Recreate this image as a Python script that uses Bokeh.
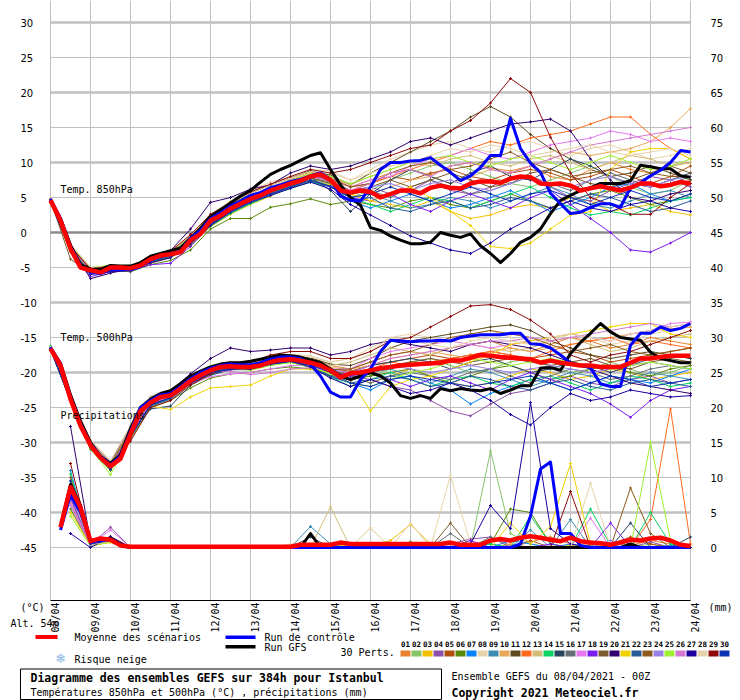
import math
from bokeh.plotting import figure
from bokeh.models import Range1d, Grid, Label
from bokeh.core.properties import value
from bokeh.embed import file_html
from bokeh.resources import INLINE

# ---------------- DATA ----------------
dates = ["08/04", "09/04", "10/04", "11/04", "12/04", "13/04", "14/04", "15/04", "16/04",
         "17/04", "18/04", "19/04", "20/04", "21/04", "22/04", "23/04", "24/04"]
left_ticks = list(range(-45, 31, 5))
right_ticks = list(range(0, 76, 5))

member_colors = ["#e8822e", "#88c46a", "#f0c000", "#8c50a8", "#b04e0a", "#5a8a0a", "#0a82fa", "#e8d4aa",
                 "#3c8cb4", "#e8a85a", "#5e4a1e", "#ff6a1e", "#d2be78", "#0ad264", "#284660", "#646e78",
                 "#e678f0", "#7a1ef0", "#7a5a2e", "#32006e", "#f0d200", "#285a96", "#8c5a1e", "#9882e6",
                 "#a0f032", "#d278d2", "#1e00a0", "#e6d2aa", "#8c0a0a", "#0a32b4"]

# 6-hourly mean / control / GFS (0h .. 384h)
mean850 = [4.6, 1.7, -2.3, -5.0, -5.4, -5.7, -5.0, -5.0, -5.1, -4.7,
           -3.8, -3.3, -3.1, -2.8, -1.1, -0.2, 1.7, 2.4, 3.4, 4.1,
           4.8, 5.3, 6.0, 6.5, 7.0, 7.4, 8.0, 8.3, 7.5, 6.0,
           5.7, 6.0, 5.8, 5.0, 5.5, 6.0, 6.0, 5.6, 6.4, 6.7,
           6.4, 6.3, 7.0, 7.3, 7.3, 7.1, 7.7, 8.0, 7.9, 7.0,
           6.9, 7.0, 6.7, 6.0, 6.3, 6.6, 6.3, 6.0, 6.4, 7.0,
           7.0, 6.6, 6.8, 7.2, 7.0]
ctrl850 = [4.8, 2.0, -2.0, -4.8, -5.6, -5.9, -5.2, -5.3, -5.3, -4.9,
           -4.0, -3.4, -3.0, -2.7, -0.8, 0.3, 2.0, 2.8, 3.8, 4.5,
           5.3, 5.7, 6.4, 6.8, 7.3, 7.6, 8.1, 8.5, 7.6, 5.2,
           4.6, 4.5, 6.5, 9.0, 10.0, 10.0, 10.2, 10.3, 10.7, 9.6,
           8.6, 7.4, 8.1, 9.3, 11.0, 11.0, 16.3, 12.0, 9.9, 8.6,
           5.6, 4.1, 2.7, 2.9, 3.6, 4.1, 4.1, 3.6, 6.4, 7.1,
           8.1, 8.9, 10.0, 11.7, 11.5]
gfs850 = [4.5, 2.0, -1.8, -4.6, -5.2, -5.3, -4.7, -4.8, -4.8, -4.3,
          -3.4, -3.0, -2.6, -2.2, -0.8, 0.6, 2.3, 3.2, 4.2, 5.2,
          6.0, 7.2, 8.3, 9.0, 9.6, 10.3, 11.0, 11.4, 9.0, 6.8,
          5.0, 3.9, 0.7, 0.3, -0.5, -1.1, -1.6, -1.6, -1.4, 0.0,
          -0.4, -0.7, -0.2, -1.9, -3.0, -4.3, -3.0, -1.4, -0.7, 0.5,
          2.7, 4.6, 5.3, 6.0, 6.4, 7.0, 7.0, 7.0, 7.4, 9.6,
          9.4, 9.1, 9.1, 8.1, 7.9]
mean500 = [-16.6, -19.0, -23.8, -27.6, -30.4, -32.2, -33.4, -32.3, -28.8, -25.5,
           -24.3, -23.5, -23.3, -22.3, -21.2, -20.4, -19.7, -19.2, -19.1, -19.2,
           -19.2, -19.0, -18.5, -18.2, -18.1, -18.3, -18.6, -19.0, -19.7, -20.7,
           -20.1, -20.0, -19.7, -19.4, -19.2, -19.0, -18.9, -18.8, -18.7, -18.6,
           -18.3, -18.3, -17.9, -17.5, -17.6, -17.8, -17.9, -18.0, -18.1, -18.6,
           -18.3, -18.6, -18.8, -19.0, -19.0, -19.2, -19.2, -19.2, -18.6, -18.0,
           -18.0, -17.8, -17.6, -17.6, -17.6]
ctrl500 = [-16.4, -18.8, -23.5, -27.3, -30.2, -32.0, -33.2, -32.0, -28.4, -25.0,
           -24.0, -23.2, -23.0, -22.0, -20.9, -20.0, -19.4, -19.0, -18.8, -18.9,
           -18.9, -18.6, -18.1, -17.8, -17.8, -18.0, -18.8, -20.5, -22.8, -23.5,
           -23.5, -21.0, -19.5, -17.0, -15.4, -15.5, -15.6, -15.5, -15.5, -15.4,
           -15.5, -15.0, -14.8, -14.6, -14.6, -14.6, -14.4, -14.4, -15.9, -16.0,
           -16.5, -17.5, -18.6, -19.0, -19.3, -21.6, -22.0, -22.0, -16.1, -14.4,
           -14.4, -13.5, -14.0, -13.7, -13.0]
gfs500 = [-16.5, -18.7, -23.2, -27.0, -30.0, -32.0, -33.0, -31.8, -28.0, -25.0,
          -23.8, -23.0, -22.6, -21.6, -20.5, -19.8, -19.2, -18.8, -18.6, -18.6,
          -18.4, -18.1, -17.8, -17.5, -17.6, -17.8, -18.2, -18.6, -19.5, -20.5,
          -21.0, -20.5, -20.0, -20.5, -21.5, -23.3, -23.7, -23.3, -23.7, -22.3,
          -22.6, -22.3, -22.5, -22.6, -22.3, -23.0, -22.5, -21.9, -21.9, -19.4,
          -19.3, -19.7, -17.3, -15.7, -14.4, -13.0, -14.2, -15.0, -15.2, -15.4,
          -17.1, -18.0, -18.3, -18.6, -18.6]
# 6-hourly precipitation (6h .. 384h), mm
mean_pr = [2.9, 8.6, 5.7, 0.9, 1.3, 1.1, 0.3, 0.1, 0.1, 0.1,
           0.1, 0.1, 0.1, 0.1, 0.1, 0.1, 0.1, 0.1, 0.1, 0.1,
           0.1, 0.1, 0.1, 0.1, 0.4, 0.4, 0.4, 0.4, 0.7, 0.5,
           0.5, 0.5, 0.5, 0.5, 0.5, 0.5, 0.5, 0.5, 0.5, 0.7,
           0.4, 0.4, 0.4, 1.0, 1.2, 1.0, 1.4, 1.6, 1.4, 1.1,
           0.9, 1.4, 0.9, 0.7, 0.6, 0.4, 0.7, 1.1, 1.0, 1.3,
           1.4, 1.0, 0.4, 0.2]
ctrl_pr = [2.5, 7.5, 5.0, 0.8, 1.0, 1.2, 0.3, 0, 0, 0,
           0, 0, 0, 0, 0, 0, 0, 0, 0, 0,
           0, 0, 0, 0, 0, 0, 0, 0, 0, 0,
           0, 0, 0, 0, 0, 0, 0, 0, 0, 0,
           0, 0, 0, 0, 0, 0, 0.5, 4.5, 11.2, 12.2,
           2.0, 2.0, 0.3, 0, 0, 0, 0, 0, 0, 0,
           0, 0, 0, 0]
gfs_pr = [3.0, 9.0, 6.0, 1.0, 1.2, 1.3, 0.4, 0, 0, 0,
          0, 0, 0, 0, 0, 0, 0, 0, 0, 0,
          0, 0, 0, 0, 0, 2.0, 0, 0, 0, 0,
          0, 0, 0, 0, 0, 0, 0, 0, 0, 0,
          0, 0, 0, 0, 0, 0, 0, 0, 0, 0,
          0, 0, 0, 0, 0, 0, 0, 0.5, 0, 0,
          0, 0, 0, 0]

# 12-hourly perturbations, 850 hPa (0h .. 384h)
t850 = [
    [4.5, -2.0, -5.6, -5.2, -5.0, -3.6, -2.8, -0.5, 2.5, 4.2, 5.8, 6.8, 7.8, 8.6, 8.0, 6.5, 7.5, 8.5, 9.0, 8.2, 9.5, 10.0, 9.2, 8.8, 9.5, 8.0, 7.5, 9.0, 10.0, 9.0, 8.5, 9.5, 10.0],
    [4.8, -1.8, -5.2, -4.8, -5.2, -3.5, -3.0, -1.5, 1.2, 3.0, 4.5, 5.5, 6.8, 7.6, 7.0, 5.0, 6.0, 7.5, 8.5, 9.5, 10.0, 9.0, 8.0, 7.0, 6.5, 7.5, 8.5, 9.5, 8.0, 6.5, 5.5, 6.0, 7.5],
    [4.2, -2.6, -5.8, -5.4, -5.5, -4.2, -3.4, -1.8, 0.8, 2.6, 4.0, 5.2, 6.5, 7.4, 6.8, 5.5, 4.5, 4.0, 3.5, 4.5, 3.0, 2.0, 2.5, 3.5, 4.0, 3.5, 5.0, 4.5, 3.0, 3.5, 4.0, 3.0, 2.5],
    [4.6, -2.4, -5.5, -5.0, -4.8, -3.8, -3.2, -1.0, 1.8, 3.5, 5.0, 6.2, 7.2, 8.2, 7.4, 5.8, 6.5, 5.5, 6.0, 7.5, 6.0, 5.5, 6.5, 8.0, 7.5, 6.5, 5.0, 4.5, 6.0, 7.0, 8.0, 7.5, 6.5],
    [4.7, -2.2, -5.3, -5.1, -5.3, -4.0, -3.0, -1.2, 1.6, 3.3, 4.9, 6.2, 7.4, 8.4, 7.8, 6.5, 7.0, 8.0, 7.5, 8.5, 9.0, 8.0, 7.5, 8.5, 9.0, 8.5, 7.5, 8.0, 9.0, 8.0, 7.0, 8.0, 9.5],
    [4.4, -2.8, -5.9, -5.5, -5.6, -4.6, -4.0, -2.5, 0.5, 2.0, 2.0, 3.6, 4.1, 4.8, 4.0, 4.5, 4.0, 3.5, 4.5, 5.0, 4.0, 3.5, 4.5, 5.5, 4.5, 3.5, 4.5, 5.5, 6.0, 5.0, 4.0, 4.5, 5.5],
    [4.6, -2.3, -5.4, -5.0, -5.2, -3.9, -3.2, -1.3, 1.5, 3.2, 4.6, 5.8, 6.6, 7.5, 6.8, 4.5, 3.5, 4.5, 5.5, 4.5, 3.5, 4.0, 5.0, 6.0, 4.5, 3.0, 4.0, 5.0, 6.5, 7.0, 5.5, 4.5, 5.0],
    [4.9, -1.6, -5.0, -4.8, -4.9, -3.4, -2.6, -0.4, 2.6, 4.5, 6.0, 7.2, 8.0, 9.0, 8.8, 7.5, 9.0, 10.5, 11.5, 12.5, 13.0, 12.0, 11.5, 12.5, 13.0, 12.0, 11.0, 12.0, 12.5, 11.5, 10.5, 11.0, 12.0],
    [4.3, -2.5, -5.7, -5.3, -5.4, -4.1, -3.5, -1.6, 1.0, 2.8, 4.2, 5.4, 6.4, 7.2, 6.5, 5.0, 5.5, 4.5, 3.5, 4.0, 5.0, 4.5, 3.5, 4.5, 5.5, 6.5, 5.5, 4.0, 3.5, 4.5, 5.5, 6.0, 5.0],
    [4.6, -2.2, -5.4, -4.9, -5.0, -3.7, -3.0, -0.9, 2.0, 3.6, 5.2, 6.4, 7.4, 8.3, 7.6, 6.0, 5.5, 6.5, 7.5, 8.0, 7.0, 8.0, 9.0, 8.5, 9.5, 10.5, 11.5, 11.0, 11.5, 12.0, 13.0, 15.0, 17.7],
    [4.7, -2.0, -5.3, -4.9, -5.1, -3.8, -3.0, -0.8, 2.2, 4.0, 5.6, 6.8, 7.8, 8.8, 8.2, 6.8, 8.5, 10.0, 11.5, 13.0, 14.5, 16.5, 18.0, 16.5, 14.0, 12.0, 10.5, 9.0, 8.0, 8.5, 9.5, 8.5, 7.5],
    [4.5, -2.4, -5.6, -5.2, -5.2, -3.9, -3.3, -1.2, 1.5, 3.3, 4.9, 6.2, 7.2, 8.1, 7.2, 6.0, 7.0, 8.0, 9.0, 10.0, 11.0, 12.0, 13.0, 12.5, 13.5, 14.0, 14.5, 15.5, 16.5, 16.5, 14.0, 12.0, 10.5],
    [4.8, -1.9, -5.1, -4.7, -4.9, -3.6, -2.8, -0.6, 2.2, 3.9, 5.3, 6.5, 7.6, 8.4, 7.9, 6.8, 8.0, 9.0, 10.0, 9.5, 10.5, 11.0, 10.0, 9.5, 10.5, 11.0, 10.0, 9.0, 10.0, 11.0, 10.5, 9.5, 10.0],
    [4.4, -2.6, -5.6, -5.2, -5.3, -4.2, -3.5, -1.7, 0.9, 2.7, 4.1, 5.3, 6.3, 7.2, 6.6, 5.0, 4.0, 3.0, 4.0, 5.0, 4.5, 3.5, 4.5, 5.5, 6.5, 5.0, 3.5, 2.5, 3.0, 2.5, 3.5, 4.5, 5.0],
    [4.5, -2.4, -5.5, -5.1, -5.1, -3.8, -3.2, -1.1, 1.6, 3.4, 4.8, 5.9, 6.9, 7.9, 6.0, 3.0, 5.5, 7.5, 9.0, 8.0, 7.0, 8.5, 9.5, 8.0, 7.5, 9.0, 10.5, 9.5, 8.0, 7.0, 6.5, 7.5, 8.5],
    [4.6, -2.3, -5.5, -5.1, -5.0, -3.8, -3.1, -1.0, 1.8, 3.5, 4.9, 6.0, 7.0, 7.8, 7.2, 5.5, 6.0, 5.0, 6.5, 7.5, 6.5, 5.5, 6.0, 7.0, 8.0, 7.0, 6.0, 7.5, 8.5, 7.5, 6.5, 7.0, 8.0],
    [4.7, -2.1, -5.3, -4.9, -5.0, -3.6, -2.9, -0.7, 2.1, 3.7, 5.1, 6.3, 7.3, 8.2, 7.7, 6.5, 7.5, 8.0, 9.5, 10.5, 11.0, 12.0, 11.0, 10.5, 11.5, 12.5, 13.0, 13.5, 14.5, 14.0, 13.0, 13.5, 13.0],
    [4.5, -2.5, -6.3, -5.6, -5.4, -4.6, -4.4, -2.0, 1.0, 3.0, 4.6, 5.5, 6.5, 7.5, 6.5, 5.0, 4.5, 5.5, 4.0, 3.0, 4.5, 5.5, 4.5, 3.5, 5.0, 6.0, 4.0, 2.0, 0.0, -2.5, -2.8, -1.5, 0.0],
    [4.6, -3.8, -5.8, -5.3, -5.6, -4.4, -3.6, -1.8, 1.2, 3.0, 4.5, 5.7, 6.7, 7.8, 7.0, 6.0, 6.5, 7.5, 6.5, 7.5, 8.5, 7.5, 6.5, 7.0, 8.5, 9.0, 8.0, 7.0, 6.5, 7.5, 8.5, 9.5, 8.5],
    [4.7, -2.0, -6.6, -5.8, -5.2, -3.4, -2.6, 0.5, 4.3, 5.0, 6.2, 6.8, 8.5, 9.5, 9.0, 9.5, 10.5, 11.5, 13.0, 13.5, 12.5, 13.5, 14.5, 15.5, 15.8, 16.2, 14.5, 10.5, 7.5, 5.0, 4.5, 5.5, 6.0],
    [4.5, -2.4, -5.5, -5.1, -5.2, -4.0, -3.4, -1.4, 1.3, 3.1, 4.5, 5.6, 6.6, 7.4, 6.8, 5.5, 4.5, 5.5, 6.5, 5.0, 3.0, 1.0, -2.0, -2.3, -1.5, 0.5, 2.5, 3.0, 9.0, 11.5, 12.0, 12.0, 10.5],
    [4.4, -2.5, -5.6, -5.2, -5.3, -4.0, -3.3, -1.4, 1.3, 3.1, 4.5, 5.6, 6.6, 7.5, 6.6, 4.5, 5.0, 3.5, 3.0, 4.0, 4.5, 3.5, 4.0, 5.0, 4.5, 3.5, 4.5, 5.5, 5.0, 4.0, 3.0, 3.5, 4.5],
    [4.6, -2.3, -5.4, -5.0, -5.0, -3.7, -3.0, -1.0, 1.8, 3.5, 4.9, 6.1, 7.1, 8.1, 7.6, 6.5, 7.0, 8.5, 9.5, 10.0, 9.0, 9.5, 10.5, 11.5, 10.0, 9.0, 8.0, 8.5, 9.0, 9.5, 8.5, 8.0, 8.0],
    [4.7, -2.1, -5.3, -4.9, -5.0, -3.7, -3.0, -0.9, 1.9, 3.6, 5.0, 6.1, 7.1, 8.0, 7.4, 6.0, 6.5, 7.0, 6.0, 7.0, 7.5, 6.5, 6.0, 7.0, 8.0, 7.0, 6.5, 7.5, 8.0, 7.0, 6.5, 7.5, 8.0],
    [4.8, -1.9, -5.0, -4.7, -4.8, -3.5, -2.8, -0.7, 2.0, 3.7, 5.2, 6.3, 7.4, 8.5, 8.0, 7.0, 8.0, 9.0, 10.0, 10.5, 11.0, 10.0, 9.5, 10.5, 11.0, 10.0, 9.0, 10.0, 11.0, 10.0, 9.0, 9.5, 10.5],
    [4.6, -2.2, -5.4, -5.0, -5.1, -3.7, -3.1, -0.9, 1.9, 3.5, 4.9, 6.0, 7.1, 8.0, 7.3, 6.0, 7.0, 8.5, 9.0, 8.0, 9.5, 10.0, 9.0, 8.5, 9.5, 10.5, 11.5, 12.5, 13.0, 13.5, 14.0, 14.5, 15.0],
    [4.5, -2.5, -6.0, -5.6, -5.4, -4.3, -3.6, -1.6, 1.0, 2.9, 4.3, 5.3, 6.3, 7.2, 6.2, 4.0, 2.5, 1.0, -0.5, -1.5, -2.5, -3.0, -1.5, 0.5, 2.0, 3.5, 4.5, 3.5, 3.0, 4.0, 4.5, 3.5, 3.0],
    [4.9, -1.7, -5.0, -4.8, -4.9, -3.4, -2.7, -0.4, 2.4, 4.2, 5.6, 6.8, 7.8, 8.7, 8.5, 7.5, 8.5, 9.5, 10.0, 11.0, 12.0, 11.5, 12.5, 12.0, 11.0, 11.5, 12.0, 12.5, 11.5, 11.0, 11.5, 12.0, 11.0],
    [4.7, -2.0, -5.2, -4.8, -4.9, -3.5, -2.7, -0.3, 2.6, 4.3, 5.8, 6.9, 8.0, 9.0, 8.5, 9.0, 10.0, 11.0, 12.0, 12.5, 14.5, 16.0, 18.5, 22.0, 20.0, 13.6, 8.5, 5.0, 4.0, 2.6, 2.6, 5.0, 7.0],
    [4.4, -2.6, -5.8, -5.4, -5.5, -4.1, -3.4, -1.5, 1.2, 3.0, 4.4, 5.5, 6.5, 7.4, 6.6, 5.0, 5.5, 6.5, 5.5, 4.5, 5.5, 6.5, 5.5, 4.5, 5.5, 6.0, 5.0, 4.0, 5.0, 6.0, 5.0, 4.5, 5.5],
]

# 12-hourly perturbations, 500 hPa
t500 = [
    [-16.4, -23.5, -30.0, -33.0, -28.0, -23.8, -22.8, -20.8, -19.4, -18.8, -18.6, -18.0, -17.6, -18.0, -19.0, -19.5, -18.5, -17.5, -17.0, -17.5, -16.5, -16.0, -15.5, -16.5, -17.0, -16.0, -15.0, -15.5, -16.5, -16.0, -15.0, -15.5, -16.0],
    [-16.8, -24.0, -30.8, -33.6, -29.2, -24.6, -23.5, -21.4, -20.0, -19.4, -19.5, -18.8, -18.4, -19.0, -20.2, -21.0, -20.5, -19.5, -18.5, -18.0, -19.0, -20.0, -19.5, -18.5, -18.0, -19.0, -20.0, -19.5, -18.5, -19.5, -20.5, -20.0, -19.0],
    [-16.5, -23.6, -30.2, -33.2, -28.4, -24.0, -23.0, -21.0, -19.6, -19.0, -19.0, -18.4, -18.0, -18.5, -19.5, -20.5, -21.5, -20.5, -19.5, -20.5, -21.5, -22.0, -21.5, -20.5, -19.5, -20.0, -21.0, -20.5, -19.5, -20.0, -21.0, -20.5, -20.0],
    [-16.6, -23.8, -30.5, -33.5, -29.0, -24.4, -23.4, -21.2, -19.8, -19.2, -19.4, -18.6, -18.2, -18.8, -20.0, -20.5, -21.0, -22.0, -22.5, -24.0, -25.5, -26.2, -24.5, -23.0, -22.5, -21.5, -20.5, -21.5, -22.0, -21.0, -20.5, -21.5, -21.0],
    [-16.6, -23.7, -30.3, -33.3, -28.6, -24.2, -23.2, -21.1, -19.6, -19.0, -19.1, -18.4, -18.0, -18.4, -19.5, -19.8, -19.0, -18.5, -18.0, -17.5, -18.0, -17.5, -17.0, -17.5, -18.0, -17.5, -17.0, -17.5, -18.5, -18.0, -17.5, -17.0, -16.5],
    [-16.7, -24.1, -31.0, -34.0, -29.5, -25.0, -24.0, -22.2, -20.8, -20.2, -20.0, -19.5, -19.2, -19.5, -20.5, -21.0, -20.5, -20.0, -19.5, -20.5, -21.5, -20.5, -19.5, -19.0, -20.0, -21.0, -20.5, -19.5, -19.0, -20.0, -20.5, -19.5, -19.0],
    [-16.6, -23.9, -30.6, -33.6, -29.1, -24.5, -23.5, -21.3, -19.9, -19.3, -19.3, -18.6, -18.3, -19.0, -20.5, -21.5, -22.5, -21.0, -20.5, -21.5, -22.5, -24.5, -23.0, -22.0, -21.0, -21.5, -22.5, -21.5, -20.5, -21.0, -21.5, -20.5, -19.5],
    [-16.3, -23.2, -29.6, -32.6, -27.6, -23.4, -22.4, -20.4, -19.0, -18.4, -18.4, -17.8, -17.4, -17.6, -18.5, -18.0, -16.5, -15.0, -14.5, -15.0, -15.5, -14.5, -14.0, -15.0, -16.0, -15.5, -14.5, -15.0, -16.0, -15.5, -14.5, -14.0, -13.5],
    [-16.7, -24.0, -30.7, -33.7, -29.2, -24.7, -23.6, -21.5, -20.1, -19.5, -19.4, -18.7, -18.4, -19.2, -20.5, -21.0, -20.0, -19.5, -20.5, -21.5, -20.5, -19.5, -20.0, -21.0, -22.0, -21.0, -20.0, -20.5, -21.5, -21.0, -20.0, -20.5, -21.0],
    [-16.5, -23.6, -30.2, -33.2, -28.5, -24.1, -23.1, -21.0, -19.6, -19.0, -19.0, -18.3, -17.9, -18.3, -19.3, -19.5, -19.0, -18.0, -17.5, -17.0, -17.5, -18.0, -17.0, -16.5, -17.0, -16.5, -16.0, -15.5, -15.0, -14.5, -14.0, -13.8, -13.5],
    [-16.5, -23.5, -30.1, -33.1, -28.2, -23.9, -22.9, -20.8, -19.4, -18.8, -18.8, -18.1, -17.7, -17.9, -18.8, -19.0, -18.0, -16.5, -15.5, -15.0, -14.5, -14.0, -13.5, -13.2, -14.0, -15.5, -16.5, -17.5, -18.0, -17.5, -17.0, -17.5, -18.0],
    [-16.6, -23.9, -30.6, -33.5, -29.0, -24.4, -23.4, -21.3, -19.9, -19.3, -19.3, -18.6, -18.2, -18.8, -19.8, -20.0, -19.5, -18.5, -19.0, -18.5, -18.0, -17.5, -17.0, -17.5, -18.0, -17.0, -16.0, -15.5, -15.0, -16.0, -15.5, -16.0, -16.5],
    [-16.4, -23.4, -30.0, -33.0, -28.2, -23.8, -22.9, -20.9, -19.5, -18.9, -18.9, -18.2, -17.8, -18.2, -19.0, -18.5, -17.5, -16.5, -17.0, -17.5, -16.5, -16.0, -16.5, -17.0, -16.5, -15.5, -15.0, -16.0, -17.0, -16.5, -15.5, -15.0, -14.5],
    [-16.2, -23.9, -30.7, -33.8, -29.3, -24.8, -23.7, -21.6, -20.2, -19.6, -19.5, -18.8, -18.5, -19.3, -20.6, -22.0, -21.0, -20.0, -21.0, -22.0, -21.0, -20.5, -21.5, -22.0, -21.0, -20.5, -21.5, -22.5, -21.5, -20.5, -21.0, -22.0, -21.5],
    [-16.6, -23.8, -30.4, -33.4, -28.9, -25.2, -24.8, -21.8, -20.4, -19.6, -19.4, -18.8, -18.5, -19.0, -20.5, -20.0, -19.0, -18.5, -18.0, -18.5, -19.5, -18.5, -18.0, -19.0, -20.0, -19.5, -18.5, -19.0, -20.0, -19.0, -18.0, -17.5, -18.0],
    [-16.7, -24.0, -30.6, -33.6, -29.0, -24.5, -23.4, -21.3, -19.9, -19.3, -19.3, -18.6, -18.2, -18.8, -19.8, -20.5, -21.5, -20.5, -20.0, -20.5, -21.0, -20.0, -19.5, -20.5, -21.5, -20.5, -19.5, -20.0, -21.0, -20.5, -19.5, -19.0, -19.5],
    [-16.5, -23.7, -30.4, -33.4, -28.7, -24.3, -23.6, -21.6, -20.6, -20.2, -20.0, -19.5, -19.0, -19.0, -19.5, -19.5, -18.0, -17.0, -16.5, -16.0, -15.5, -16.0, -16.5, -16.0, -15.5, -15.0, -14.5, -15.0, -15.5, -14.5, -14.0, -13.0, -12.8],
    [-16.6, -23.9, -30.6, -33.7, -29.2, -24.6, -23.5, -21.4, -20.0, -19.4, -19.4, -18.7, -18.3, -19.0, -20.0, -20.5, -20.0, -21.0, -22.0, -21.0, -20.5, -21.5, -22.5, -21.0, -20.0, -21.0, -22.0, -23.0, -24.5, -26.4, -24.0, -22.5, -22.0],
    [-16.5, -23.7, -30.3, -33.3, -28.7, -24.2, -23.2, -21.1, -19.7, -19.1, -19.2, -18.5, -18.1, -18.7, -19.8, -20.2, -19.5, -19.0, -18.5, -18.0, -18.5, -19.0, -18.5, -18.0, -18.5, -19.0, -18.5, -18.0, -19.0, -19.5, -18.5, -18.0, -18.5],
    [-16.4, -23.4, -29.8, -32.8, -27.8, -23.6, -22.6, -20.2, -18.0, -16.5, -17.0, -16.8, -16.5, -16.5, -17.5, -17.0, -16.0, -15.5, -16.0, -16.5, -17.0, -16.0, -15.5, -16.0, -16.5, -17.5, -18.5, -19.5, -20.5, -21.5, -22.0, -22.5, -23.0],
    [-16.6, -23.8, -30.5, -33.5, -29.0, -24.8, -25.3, -23.5, -22.2, -22.0, -21.8, -20.5, -19.5, -19.5, -20.0, -21.0, -25.5, -22.0, -21.0, -20.5, -19.5, -18.5, -17.5, -16.0, -15.5, -15.0, -14.5, -14.0, -13.5, -13.0, -13.0, -14.5, -15.0],
    [-16.7, -24.1, -30.8, -33.8, -29.4, -24.8, -23.8, -21.6, -20.2, -19.6, -19.6, -18.9, -18.5, -19.2, -20.6, -21.5, -21.0, -20.5, -21.0, -22.0, -21.5, -20.5, -21.0, -22.0, -22.5, -21.5, -21.0, -22.0, -22.5, -21.5, -21.0, -21.5, -22.0],
    [-16.5, -23.6, -30.2, -33.2, -28.4, -24.0, -23.0, -21.0, -19.5, -18.9, -19.0, -18.3, -17.9, -18.4, -19.6, -19.5, -18.5, -17.5, -17.0, -16.0, -15.0, -14.5, -14.0, -14.5, -15.0, -16.0, -17.0, -16.5, -16.0, -17.0, -17.5, -17.0, -16.5],
    [-16.6, -23.8, -30.4, -33.4, -28.8, -24.3, -23.3, -21.2, -19.7, -19.1, -19.2, -18.5, -18.1, -18.6, -19.6, -20.0, -19.5, -19.0, -19.5, -20.0, -19.5, -19.0, -19.5, -20.0, -19.5, -19.0, -19.5, -20.0, -19.5, -19.0, -18.5, -19.0, -19.5],
    [-16.4, -23.8, -30.8, -34.6, -29.5, -24.7, -23.5, -21.4, -20.0, -19.4, -19.7, -19.0, -18.6, -19.2, -20.2, -21.5, -22.0, -21.0, -20.0, -19.5, -18.5, -18.0, -18.5, -19.0, -18.5, -18.0, -18.5, -19.0, -19.5, -19.0, -18.5, -19.0, -19.5],
    [-16.6, -23.9, -30.5, -33.5, -28.9, -24.4, -23.4, -21.3, -19.9, -19.8, -20.3, -20.0, -19.5, -19.3, -19.8, -20.0, -19.0, -18.0, -17.5, -17.0, -16.5, -16.0, -15.5, -15.5, -15.0, -15.5, -15.0, -14.5, -14.0, -13.5, -13.0, -13.5, -13.0],
    [-16.5, -23.9, -30.7, -33.6, -29.0, -24.6, -23.6, -21.5, -20.1, -19.5, -19.5, -18.8, -18.4, -19.2, -20.8, -22.0, -21.0, -22.0, -23.0, -22.5, -21.5, -22.5, -24.0, -26.0, -27.5, -25.0, -23.0, -24.0, -23.5, -22.5, -23.0, -23.5, -23.3],
    [-16.4, -23.3, -29.8, -32.7, -27.8, -23.6, -22.7, -20.7, -19.3, -18.7, -18.7, -18.0, -17.6, -17.8, -18.5, -18.0, -17.0, -15.0, -15.5, -16.0, -16.5, -15.5, -15.0, -15.5, -16.0, -15.0, -14.5, -15.0, -15.5, -14.5, -14.0, -13.5, -13.0],
    [-16.6, -23.7, -30.3, -33.5, -29.8, -25.0, -24.0, -21.8, -20.2, -19.0, -18.5, -17.5, -17.0, -17.0, -18.0, -18.0, -17.0, -15.5, -15.0, -13.5, -12.0, -10.5, -10.3, -11.0, -12.5, -14.5, -17.5, -18.5, -17.5, -17.0, -16.0, -15.0, -14.0],
    [-16.7, -24.0, -30.7, -33.8, -29.3, -24.7, -23.6, -21.4, -20.0, -19.4, -19.4, -18.7, -18.3, -18.9, -20.0, -21.5, -22.0, -21.0, -20.5, -21.0, -21.5, -22.0, -21.5, -21.0, -20.5, -21.5, -22.5, -21.5, -20.5, -21.0, -22.0, -21.5, -21.0],
]

# 12-hourly perturbations, precipitation (12h .. 384h), mm
precip = [
    [8.0, 0.3, 1.2, 0, 0, 0, 0, 0, 0, 0, 0, 0, 0, 0.3, 0, 0, 0, 0.5, 0, 0.2, 0, 0, 0, 0.8, 1.5, 0.5, 0, 0, 0.3, 1.0, 0.5, 0],
    [9.0, 0.5, 1.0, 0, 0, 0, 0, 0, 0, 0, 0, 0.4, 0.3, 0, 0, 0, 0, 0, 0, 0, 0, 13.8, 2.0, 0.5, 0, 0, 0.3, 0, 0, 0.5, 0, 0],
    [6.5, 0.2, 0.8, 0, 0, 0, 0, 0, 0, 0, 0, 0, 0, 0, 0, 0.2, 1.0, 3.3, 0.5, 0, 0, 0, 0.5, 0, 0, 0.3, 0, 0, 0, 0, 0, 0],
    [7.5, 0.4, 2.9, 0, 0, 0, 0, 0, 0, 0, 0, 0, 0.2, 0, 0, 0, 0, 0, 0, 0.5, 1.2, 1.5, 0.3, 0, 0, 0, 0, 0, 0, 0.8, 0, 0],
    [10.0, 0.6, 1.5, 0, 0, 0, 0, 0, 0, 0, 0, 0, 0, 0, 0, 0, 0, 0, 0, 0, 0, 0, 0, 1.0, 0, 0, 0, 0.5, 1.5, 0.5, 0, 0],
    [5.5, 0.3, 0.8, 0, 0, 0, 0, 0, 0, 0, 0, 0, 0, 0, 0.5, 0, 0, 0.8, 0, 0, 0, 0.5, 5.5, 5.0, 0.5, 0, 0, 0, 0, 0, 0, 0],
    [11.0, 0.5, 1.3, 0, 0, 0, 0, 0, 0, 0, 0, 0, 0, 0, 0, 0, 0, 0, 0.3, 0, 0, 0, 1.0, 0.5, 0, 0.5, 0, 0, 0, 0, 0.3, 0],
    [7.0, 0.4, 1.0, 0, 0, 0, 0, 0, 0, 0, 0, 0.5, 0.5, 0, 0, 2.8, 0, 0, 0, 10.3, 0.5, 0, 0, 0, 0, 0, 0, 0, 0, 0, 0, 0],
    [9.5, 0.5, 1.1, 0, 0, 0, 0, 0, 0, 0, 0, 0, 3.0, 0.5, 0, 0, 0, 0, 0, 0, 0, 0.5, 0, 2.5, 0, 4.0, 0, 0, 0, 0, 0, 0],
    [8.5, 0.4, 0.9, 0, 0, 0, 0, 0, 0, 0, 0, 0, 0, 0, 0, 0, 0, 0, 0, 0, 0, 0, 0.4, 0, 0, 0, 0.5, 0, 0, 0, 0, 0],
    [6.0, 0.3, 1.5, 0, 0, 0, 0, 0, 0, 0, 0, 0, 0, 0, 0, 0, 0, 0, 0, 0, 0, 0, 0, 0, 0, 0, 0, 0, 0, 0, 0, 0],
    [9.0, 0.5, 1.0, 0, 0, 0, 0, 0, 0, 0, 0, 0, 0, 0, 0, 0, 0, 0, 0, 0, 0, 0, 0, 0, 0, 0, 0, 0, 0, 4.0, 19.8, 0.5],
    [8.0, 0.4, 1.2, 0, 0, 0, 0, 0, 0, 0, 0, 0, 0, 5.8, 0, 0, 0, 0, 0, 0, 0, 0, 0, 0, 0, 0, 0, 0, 0, 0, 0, 0],
    [10.5, 0.5, 1.4, 0, 0, 0, 0, 0, 0, 0, 0, 0, 0, 0, 0, 0, 0, 0, 0, 0, 0, 0.5, 0, 4.5, 0.5, 0, 5.5, 0.3, 0, 5.0, 0.5, 0],
    [7.5, 0.3, 1.0, 0, 0, 0, 0, 0, 0, 0, 0, 0, 1.5, 0, 0, 0, 0, 0, 0, 0, 0, 0, 0, 0, 0, 0, 0, 0, 3.5, 0, 0, 1.5],
    [8.5, 0.4, 1.2, 0, 0, 0, 0, 0, 0, 0, 0, 0, 0, 0, 0, 0, 0, 0, 0, 2.0, 0, 1.5, 0, 0, 0, 0, 0, 0, 0, 0, 0, 0],
    [6.0, 0.3, 2.5, 0, 0, 0, 0, 0, 0, 0, 0, 0, 0, 0, 0, 0, 0, 0, 0, 0, 0, 0, 0, 0, 0, 0, 4.2, 0, 0, 0, 0, 0],
    [7.0, 0.4, 1.0, 0, 0, 0, 0, 0, 0, 0, 0, 0, 0, 0, 0, 0, 0, 0, 0, 0, 1.0, 0, 0, 0, 0.5, 0, 0, 3.5, 0, 0, 0, 0],
    [9.0, 0.5, 1.6, 0, 0, 0, 0, 0, 0, 0, 0, 0, 0, 0, 0, 0, 0, 0, 0, 3.5, 0, 0, 0, 0, 0, 0, 0, 0, 0, 0, 0, 0],
    [17.3, 0.8, 1.5, 0, 0, 0, 0, 0, 0, 0, 0, 0, 0, 0, 0, 0, 0, 0, 0, 0, 0, 0, 0, 0, 0, 0, 0, 0, 0, 0, 0, 0],
    [5.0, 0.3, 0.7, 0, 0, 0, 0, 0, 0, 0, 0, 0, 0, 0, 0.5, 0, 0, 0, 0, 0, 0, 0, 3.5, 0.5, 3.0, 12.0, 0.5, 0, 0, 0, 0, 0],
    [8.0, 0.4, 1.0, 0, 0, 0, 0, 0, 0, 0, 0, 0, 0, 0, 0, 0, 0, 0, 0, 0, 0, 0, 0, 0, 0, 0, 0, 0, 0, 0, 0, 0],
    [10.0, 0.5, 1.3, 0, 0, 0, 0, 0, 0, 0, 0, 0, 0, 0, 0, 0, 0, 0.5, 0, 0, 0, 0, 0, 0, 0, 0, 0, 0, 8.5, 2.0, 0, 0],
    [7.5, 0.4, 1.0, 0, 0, 0, 0, 0, 0, 0, 0, 0, 0, 0, 0, 0, 0, 0, 0, 0, 0, 0, 0, 0, 0, 0, 0, 1.0, 0, 0, 0, 0],
    [4.5, 0.2, 0.8, 0, 0, 0, 0, 0, 0, 0, 0, 0, 0, 0, 0, 0, 0, 0, 0, 0, 0, 0, 0, 0, 0, 0, 0, 0, 0, 15.0, 1.0, 0],
    [6.5, 0.3, 1.1, 0, 0, 0, 0, 0, 0, 0, 0, 0, 0, 0, 0, 0, 0, 0, 0, 0, 0, 0, 0, 0, 0, 0, 0, 0, 0, 0, 0, 0],
    [2.0, 0.0, 1.5, 0, 0, 0, 0, 0, 0, 0, 0, 0, 0, 0, 0, 0, 0, 0, 0, 0, 0.5, 6.0, 2.7, 20.7, 2.7, 0.5, 0, 0, 0, 0, 0, 0],
    [8.0, 0.4, 0.9, 0, 0, 0, 0, 0, 0, 0, 0, 0, 0, 0, 0, 2.8, 0, 3.5, 0, 0, 0, 0, 0, 0, 0, 0, 9.2, 0, 0, 0, 0, 0],
    [12.0, 0.6, 1.2, 0, 0, 0, 0, 0, 0, 0, 0, 0, 0, 0, 0, 0, 0, 0, 0, 0, 0, 0, 0, 0, 0, 8.0, 0, 0, 0, 0, 0, 0],
    [9.5, 0.5, 1.0, 0, 0, 0, 0, 0, 0, 0, 0, 0, 0, 0, 0, 0, 0, 0, 0, 0, 0, 0, 0, 0, 0, 0, 0, 0, 0, 0, 0, 0],
]

# ---------------- FIGURE ----------------
MONO = "DejaVu Sans Mono"
SANS = "DejaVu Sans"
GRID = "#c0c0c0"
W, H = 740, 700

# screen-pixel helpers for the page layout (frame = whole canvas)
def X(px):
    return (px - 50) / 40.0

def Y(py):
    return (232 - py) / 7.0

p = figure(width=W, height=H, output_backend="svg", toolbar_location=None, tools="",
           x_range=Range1d(X(0), X(W)), y_range=Range1d(Y(H), Y(0)),
           x_axis_location=None, y_axis_location=None,
           min_border_left=0, min_border_right=0, min_border_top=0, min_border_bottom=0)
p.center = [r for r in p.center if not isinstance(r, Grid)]
p.outline_line_color = None
p.background_fill_color = "white"
p.border_fill_color = "white"
p.extra_y_ranges = {"mm": Range1d(Y(H) + 45, Y(0) + 45)}

day_ticks = list(range(len(dates)))
x_end = day_ticks[-1]
y_top = Y(0)
y_bot = Y(600)

# grid
p.segment(x0=day_ticks, y0=[y_top] * len(day_ticks), x1=day_ticks, y1=[y_bot] * len(day_ticks),
          line_color=GRID, line_width=1)
thin = [t for t in left_ticks if t % 10 != 0]
thick = [t for t in left_ticks if t % 10 == 0 and t != 0]
p.segment(x0=[0] * len(thin), y0=thin, x1=[x_end] * len(thin), y1=thin, line_color=GRID, line_width=1)
p.segment(x0=[0] * len(thick), y0=thick, x1=[x_end] * len(thick), y1=thick, line_color=GRID, line_width=2.5)
p.segment(x0=[0], y0=[0], x1=[x_end], y1=[0], line_color="#8c8c8c", line_width=2.5)

# perturbations
for i in range(len(member_colors)):
    c = member_colors[i]
    for series in (t850[i], t500[i]):
        xs = [0.5 * k for k in range(len(series))]
        p.line(xs, series, line_color=c, line_width=1)
        p.scatter(xs, series, marker="cross", size=3, line_color=c, line_width=1)
    pr = precip[i]
    xs = [0.5 * (k + 1) for k in range(len(pr))]
    p.line(xs, pr, line_color=c, line_width=1, y_range_name="mm")
    p.scatter(xs, pr, marker="cross", size=3, line_color=c, line_width=1, y_range_name="mm")

def x6(s):
    return [0.25 * k for k in range(len(s))]

def x6p(s):
    return [0.25 * (k + 1) for k in range(len(s))]

for s in (gfs850, gfs500):
    p.line(x6(s), s, line_color="black", line_width=3, line_join="round")
p.line(x6p(gfs_pr), gfs_pr, line_color="black", line_width=3, line_join="round", y_range_name="mm")
for s in (ctrl850, ctrl500):
    p.line(x6(s), s, line_color="#0000ff", line_width=3, line_join="round")
p.line(x6p(ctrl_pr), ctrl_pr, line_color="#0000ff", line_width=3, line_join="round", y_range_name="mm")
for s in (mean850, mean500):
    p.line(x6(s), s, line_color="#ff0000", line_width=4.5, line_join="round")
p.line(x6p(mean_pr), mean_pr, line_color="#ff0000", line_width=4.5, line_join="round", y_range_name="mm")

# x axis line
p.segment(x0=[0], y0=[y_bot], x1=[x_end], y1=[y_bot], line_color="black", line_width=1)

# tick labels
p.text(x=[X(20)] * len(left_ticks), y=left_ticks, text=[str(t) for t in left_ticks],
       text_font=value(SANS), text_font_size=value("10px"), text_align="left",
       text_baseline="middle", text_color="black")
p.text(x=[X(710)] * len(right_ticks), y=right_ticks, text=[str(t) for t in right_ticks],
       text_font=value(SANS), text_font_size=value("10px"), text_align="left",
       text_baseline="middle", text_color="black", y_range_name="mm")
p.text(x=day_ticks, y=[Y(602)] * len(day_ticks), text=dates, angle=math.pi / 2, x_offset=5,
       text_font=value(MONO), text_font_size=value("10px"), text_align="right",
       text_baseline="middle", text_color="black")

# ---------------- TEXT / LEGEND ----------------
def txt(s, px, py, size="10px", bold=False, align="left", color="black", font=MONO):
    p.add_layout(Label(x=X(px), y=Y(py), text=s, text_font=font, text_font_size=size,
                       text_font_style="bold" if bold else "normal", text_align=align,
                       text_baseline="middle", text_color=color))

def bar(l, r, t, b, color):
    p.quad(left=[X(l)], right=[X(r)], top=[Y(t)], bottom=[Y(b)], fill_color=color, line_color=None)

txt("Temp. 850hPa", 60, 189)
txt("Temp. 500hPa", 60, 337)
txt("Precipitations", 60, 415)

txt("(°C)", 20, 607)
txt("Alt. 54m", 10, 623)
txt("(mm)", 708, 607)

bar(35, 57, 634.5, 638.5, "#ff0000")
txt("Moyenne des scénarios", 74, 637)
bar(225, 255, 635, 638.5, "#0000ff")
txt("Run de contrôle", 264, 637)
bar(225, 255, 644.5, 648, "black")
txt("Run GFS", 264, 647)
txt("❄", 60, 658, size="13px", align="center", color="#8ab8e6", font=SANS)
txt("Risque neige", 74, 659)
txt("30 Perts.", 340, 652)
for i, c in enumerate(member_colors):
    txt("%02d" % (i + 1), 405 + 11 * i, 643.5, size="7.5px", bold=True, align="center")
    bar(400 + 11 * i, 410 + 11 * i, 650, 656, c)

p.quad(left=[X(20)], right=[X(441)], top=[Y(668.5)], bottom=[Y(699)], fill_color=None,
       line_color="black", line_width=1)
txt("Diagramme des ensembles GEFS sur 384h pour Istanbul", 30, 677, size="11.5px", bold=True)
txt("Températures 850hPa et 500hPa (°C) , précipitations (mm)", 30, 691.5)
txt("Ensemble GEFS du 08/04/2021 - 00Z", 451, 676)
txt("Copyright 2021 Meteociel.fr", 451, 692, size="11.5px", bold=True)

open("out.html", "w").write(file_html(p, INLINE))
